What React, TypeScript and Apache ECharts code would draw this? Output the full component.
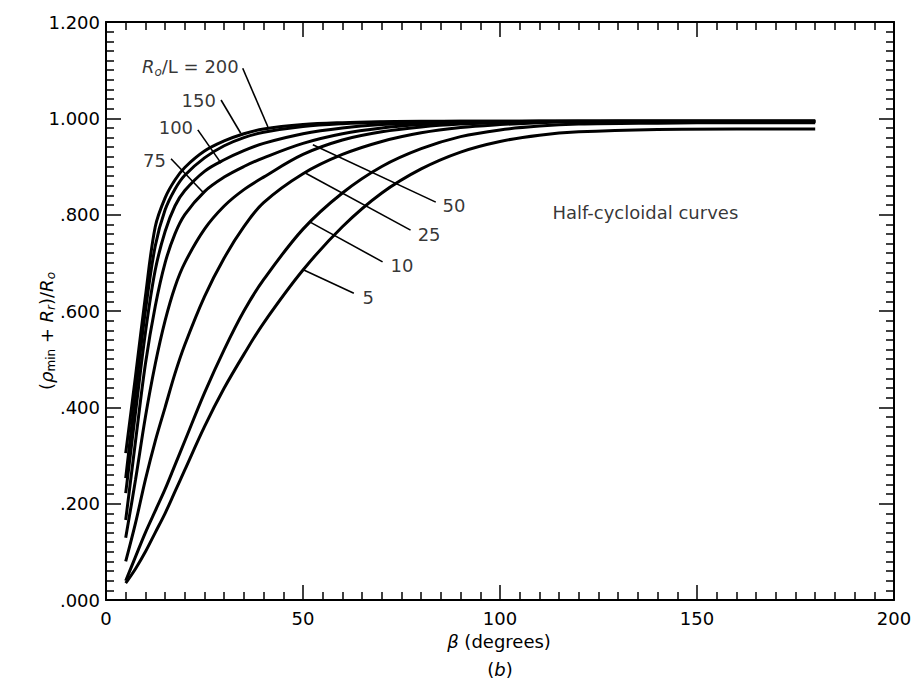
import React, { useEffect, useRef } from 'react';
import * as echarts from 'echarts';

// beta (degrees) sample positions
const betaDeg = [5, 7.5, 10, 12.5, 15, 17.5, 20, 25, 30, 35, 40, 50, 60, 70, 80, 90, 100, 110, 120, 140, 160, 180];

// (rho_min + R_r)/R_o for each R_o/L
const ratio200 = [0.305, 0.465, 0.63, 0.775, 0.835, 0.872, 0.898, 0.932, 0.953, 0.968, 0.978, 0.987, 0.991, 0.993, 0.994, 0.994, 0.994, 0.994, 0.994, 0.994, 0.994, 0.994];
const ratio150 = [0.253, 0.43, 0.6, 0.735, 0.81, 0.853, 0.882, 0.918, 0.943, 0.96, 0.971, 0.983, 0.989, 0.992, 0.993, 0.994, 0.994, 0.994, 0.994, 0.994, 0.994, 0.994];
const ratio100 = [0.222, 0.39, 0.555, 0.685, 0.765, 0.818, 0.85, 0.89, 0.914, 0.933, 0.948, 0.968, 0.98, 0.987, 0.99, 0.992, 0.993, 0.994, 0.994, 0.994, 0.994, 0.994];
const ratio75 = [0.166, 0.33, 0.49, 0.61, 0.7, 0.76, 0.8, 0.848, 0.878, 0.9, 0.918, 0.948, 0.968, 0.98, 0.987, 0.991, 0.993, 0.994, 0.994, 0.994, 0.994, 0.994];
const ratio50 = [0.129, 0.25, 0.38, 0.49, 0.58, 0.65, 0.7, 0.77, 0.818, 0.852, 0.878, 0.925, 0.955, 0.972, 0.982, 0.988, 0.991, 0.993, 0.994, 0.994, 0.994, 0.994];
const ratio25 = [0.08, 0.16, 0.25, 0.33, 0.4, 0.47, 0.53, 0.63, 0.71, 0.775, 0.825, 0.885, 0.925, 0.952, 0.97, 0.981, 0.987, 0.991, 0.993, 0.994, 0.994, 0.994];
const ratio10 = [0.04, 0.09, 0.14, 0.185, 0.23, 0.28, 0.33, 0.43, 0.52, 0.6, 0.665, 0.77, 0.845, 0.9, 0.937, 0.962, 0.976, 0.984, 0.988, 0.99, 0.991, 0.991];
const ratio5 = [0.035, 0.065, 0.1, 0.14, 0.18, 0.225, 0.27, 0.36, 0.44, 0.51, 0.575, 0.685, 0.775, 0.845, 0.895, 0.93, 0.952, 0.965, 0.972, 0.977, 0.978, 0.978];

const curveNames = ['200', '150', '100', '75', '50', '25', '10', '5'];
const curveValues = [ratio200, ratio150, ratio100, ratio75, ratio50, ratio25, ratio10, ratio5];

const xTickLabels = ['0', '50', '100', '150', '200'];
const yTickLabels = ['.000', '.200', '.400', '.600', '.800', '1.000', '1.200'];

// annotation leaders, in data coordinates [beta, ratio]
const leaderFrom = [[34.7, 1.104], [29.2, 1.038], [23.3, 0.976], [16.5, 0.916], [83.7, 0.826], [77.3, 0.768], [70.2, 0.702], [62.9, 0.637]];
const leaderTo = [[41.1, 0.982], [34.2, 0.969], [29.2, 0.907], [24.8, 0.845], [52.5, 0.945], [50.7, 0.886], [51.7, 0.785], [50.2, 0.685]];
const labelTexts = ['{i|R}{s|o}{p|/L = 200}', '{p|150}', '{p|100}', '{p|75}', '{p|50}', '{p|25}', '{p|10}', '{p|5}', '{p|Half-cycloidal curves}'];
const labelAt = [[33.7, 1.107], [27.9, 1.038], [22.1, 0.98], [15.2, 0.913], [85.4, 0.82], [79.1, 0.758], [72.2, 0.695], [65.1, 0.627], [113.3, 0.805]];
const labelSide = ['right', 'right', 'right', 'right', 'left', 'left', 'left', 'left', 'left'];

const FONT = "'DejaVu Sans', 'Liberation Sans', Arial, sans-serif";

export default function App() {
  const ref = useRef<HTMLDivElement>(null);

  useEffect(() => {
    document.body.style.margin = '0';
    const chart = echarts.init(ref.current as HTMLDivElement, undefined, { renderer: 'svg' });

    const richStyles = {
      p: { fontFamily: FONT, fontSize: 18, color: '#000', lineHeight: 22 },
      i: { fontFamily: FONT, fontSize: 18, fontStyle: 'italic', color: '#000', lineHeight: 22 },
      s: { fontFamily: FONT, fontSize: 12, fontStyle: 'italic', color: '#000', lineHeight: 12, verticalAlign: 'bottom' },
      sn: { fontFamily: FONT, fontSize: 12, color: '#000', lineHeight: 12, verticalAlign: 'bottom' },
    };

    const axisCommon = (isX: boolean) => ({
      type: 'value',
      axisLine: { show: true, onZero: false, lineStyle: { color: '#000', width: 2 } },
      axisTick: { show: true, inside: true, length: 15, lineStyle: { color: '#000', width: 1.5 } },
      minorTick: { show: true, splitNumber: 10, length: 8, lineStyle: { color: '#000', width: 1.5 } },
      splitLine: { show: false },
      minorSplitLine: { show: false },
      ...(isX ? { min: 0, max: 200, interval: 50 } : { min: 0, max: 1.2, interval: 0.2 }),
    });

    const lineSeries = curveNames.map((name, k) => ({
      name: 'Ro/L = ' + name,
      type: 'line',
      xAxisIndex: 0,
      yAxisIndex: 0,
      data: betaDeg.map((b, j) => [b, curveValues[k][j]]),
      smooth: 0.35,
      showSymbol: false,
      symbol: 'none',
      silent: true,
      lineStyle: { color: '#000', width: 3 },
      z: 3,
    }));

    chart.setOption({
      animation: false,
      backgroundColor: '#fff',
      grid: { left: 106, right: 22, top: 22, bottom: 79, containLabel: false },
      xAxis: [
        {
          ...axisCommon(true),
          position: 'bottom',
          axisLabel: {
            show: true, margin: 9, fontSize: 18, color: '#000', fontFamily: FONT,
            formatter: (v: number) => xTickLabels[Math.round(v / 50)],
          },
        },
        { ...axisCommon(true), position: 'top', axisLabel: { show: false } },
      ],
      yAxis: [
        {
          ...axisCommon(false),
          position: 'left',
          axisLabel: {
            show: true, margin: 6, fontSize: 18, color: '#000', fontFamily: FONT,
            formatter: (v: number) => yTickLabels[Math.round(v / 0.2)],
          },
        },
        { ...axisCommon(false), position: 'right', axisLabel: { show: false } },
      ],
      series: [
        ...lineSeries,
        {
          type: 'lines',
          coordinateSystem: 'cartesian2d',
          xAxisIndex: 0,
          yAxisIndex: 0,
          silent: true,
          lineStyle: { color: '#000', width: 1.6, opacity: 1, curveness: 0 },
          data: leaderFrom.map((f, k) => ({ coords: [f, leaderTo[k]] })),
          z: 4,
        },
        {
          type: 'scatter',
          xAxisIndex: 0,
          yAxisIndex: 0,
          symbolSize: 0,
          silent: true,
          emphasis: { disabled: true },
          data: labelAt.map((p, k) => ({
            value: p,
            label: {
              show: true,
              position: [0, 0],
              align: labelSide[k],
              verticalAlign: 'middle',
              formatter: labelTexts[k],
              rich: richStyles,
            },
          })),
          z: 5,
        },
      ],
      graphic: [
        {
          type: 'text',
          x: 46,
          y: 331,
          rotation: Math.PI / 2,
          style: {
            text: '{p|(}{i|ρ}{sn|min}{p| + }{i|R}{s|r}{p|)/}{i|R}{s|o}',
            rich: richStyles,
            align: 'center',
            verticalAlign: 'middle',
          },
        },
        {
          type: 'text',
          x: 499,
          y: 641,
          style: {
            text: '{i|β}{p| (degrees)}',
            rich: richStyles,
            align: 'center',
            verticalAlign: 'middle',
          },
        },
        {
          type: 'text',
          x: 500,
          y: 669,
          style: {
            text: '{p|(}{i|b}{p|)}',
            rich: richStyles,
            align: 'center',
            verticalAlign: 'middle',
          },
        },
      ],
    });

    return () => chart.dispose();
  }, []);

  return <div ref={ref} style={{ width: 916, height: 679 }} />;
}
